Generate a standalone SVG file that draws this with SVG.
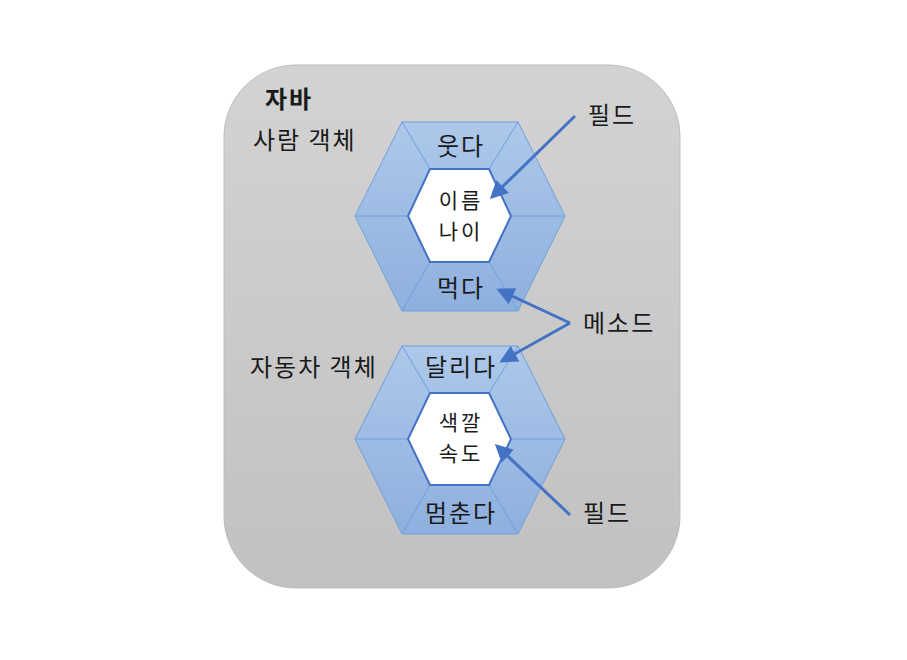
<svg xmlns="http://www.w3.org/2000/svg" width="907" height="660" viewBox="0 0 907 660">
<defs>
<linearGradient id="bg" x1="0" y1="0" x2="0" y2="1"><stop offset="0" stop-color="#d3d3d3"/><stop offset="1" stop-color="#c1c1c1"/></linearGradient>
<linearGradient id="hx" x1="0" y1="0" x2="0" y2="1"><stop offset="0" stop-color="#adc8ea"/><stop offset="1" stop-color="#8eb0de"/></linearGradient>
<marker id="ah" markerWidth="6" markerHeight="6" refX="5" refY="3" orient="auto" markerUnits="strokeWidth"><path d="M0,0 L6,3 L0,6 z" fill="#4472c4"/></marker>
<style>
text{font-family:"Noto Sans CJK KR","Noto Sans",sans-serif;font-size:24px;fill:#1a1a1a;letter-spacing:2px}
.c{text-anchor:middle}
.m{font-size:21px;letter-spacing:3px}
.o{fill:url(#hx);stroke:#6f9fda;stroke-width:1}
.e{stroke:#6f9fda;stroke-width:1;fill:none}
.i{fill:#fff;stroke:#4472c4;stroke-width:2}
.a{stroke:#4472c4;stroke-width:3;fill:none;marker-end:url(#ah)}
</style>
</defs>
<rect x="224" y="65" width="456" height="523" rx="72" fill="url(#bg)" stroke="#bdbdbd"/>
<text x="265" y="108" style="font-weight:bold">자바</text>
<text x="253" y="149">사람 객체</text>
<text x="250" y="376">자동차 객체</text>
<g id="person">
<polygon class="o" points="402,122 518,122 565,216 518,311 402,311 355,216"/>
<path class="e" d="M402,122 L430,169 M518,122 L489,169 M565,216 L511,216 M518,311 L489,262 M402,311 L430,262 M355,216 L408,216"/>
<polygon class="i" points="430,169 489,169 511,216 489,262 430,262 408,216"/>
<text class="c" x="461" y="155">웃다</text>
<text class="c m" x="461" y="208">이름<tspan x="461" y="239">나이</tspan></text>
<text class="c" x="461" y="297">먹다</text>
</g>
<g id="car">
<polygon class="o" points="402,346 518,346 565,439 518,534 402,534 355,439"/>
<path class="e" d="M402,346 L430,393 M518,346 L489,393 M565,439 L511,439 M518,534 L489,485 M402,534 L430,485 M355,439 L408,439"/>
<polygon class="i" points="430,393 489,393 511,439 489,485 430,485 408,439"/>
<text class="c" x="461" y="376">달리다</text>
<text class="c m" x="461" y="430">색깔<tspan x="461" y="461">속도</tspan></text>
<text class="c" x="461" y="522">멈춘다</text>
</g>
<g id="labels">
<text x="588" y="124">필드</text>
<text x="583" y="332">메소드</text>
<text x="583" y="522">필드</text>
</g>
<g id="connectors">
<line class="a" x1="575" y1="116" x2="492" y2="197"/>
<line class="a" x1="570" y1="323" x2="499" y2="290"/>
<line class="a" x1="570" y1="323" x2="502" y2="361"/>
<line class="a" x1="570" y1="515" x2="497" y2="446"/>
</g>
</svg>
